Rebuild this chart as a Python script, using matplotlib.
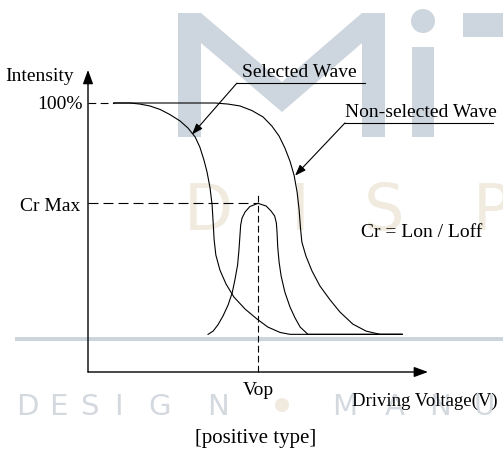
import matplotlib
matplotlib.use("Agg")
import matplotlib.pyplot as plt
from matplotlib.patches import Polygon, Circle, Rectangle

# ---------------- data (schematic electro-optical curves) ----------------
# Driving voltage in arbitrary units (axis origin = 0), intensity in %
sel_v = [0.76, 1.24, 1.53, 1.82, 2.12, 2.41, 2.71, 2.94, 3.15, 3.29, 3.41, 3.50, 3.59,
         3.65, 3.68, 3.71, 3.76, 3.88, 4.06, 4.29, 4.62, 4.97, 5.29, 5.65, 5.94, 9.24]
sel_i = [100, 100, 99.6, 98.9, 97.6, 95.7, 93.3, 90.7, 87.4, 83.6, 78.8, 74.4, 68.4,
         62.1, 55.8, 49.1, 43.5, 37.9, 32.7, 27.9, 23.4, 19.7, 16.7, 14.7, 14.0, 14.0]

non_v = [0.76, 3.74, 4.12, 4.47, 4.82, 5.15, 5.41, 5.62, 5.79, 5.94, 6.06, 6.15, 6.21,
         6.25, 6.29, 6.41, 6.59, 6.82, 7.12, 7.41, 7.79, 8.18, 8.59, 9.24]
non_i = [100, 100, 99.6, 98.9, 97.2, 94.8, 91.4, 87.7, 83.3, 78.4, 73.2, 66.9, 60.2,
         53.5, 48.3, 43.1, 37.5, 32.0, 26.8, 22.3, 17.8, 15.2, 14.0, 14.0]

cr_v = [3.53, 3.68, 3.82, 3.97, 4.12, 4.24, 4.32, 4.40, 4.44, 4.47, 4.49, 4.53, 4.62,
        4.76, 5.00, 5.24, 5.38, 5.49, 5.54, 5.56, 5.58, 5.62, 5.68, 5.79, 5.94, 6.09,
        6.24, 6.47, 9.24]
cr_i = [14.0, 15.2, 17.5, 20.8, 24.9, 29.4, 34.2, 39.8, 45.4, 50.9, 54.6, 57.2, 59.5,
        61.5, 62.7, 61.7, 59.9, 58.0, 55.4, 52.0, 46.5, 40.9, 35.7, 29.7, 24.2, 20.1,
        16.7, 14.0, 14.0]

vop = 5.0
cr_max = 62.7
full_scale = 100
x_axis_end = 10.0
y_axis_end = 112.3

labels = {
    "y": "Intensity", "x": "Driving Voltage(V)", "full": "100%", "crmax": "Cr Max",
    "vop": "Vop", "sel": "Selected Wave", "non": "Non-selected Wave",
    "cr": "Cr = Lon / Loff", "caption": "[positive type]",
}

# ---------------- figure ----------------
W, H = 503, 454
fig = plt.figure(figsize=(W / 100, H / 100), dpi=100)
fig.patch.set_facecolor("white")

# watermark layer (pixel coordinates)
wm = fig.add_axes([0, 0, 1, 1], zorder=0)
wm.set_xlim(0, W)
wm.set_ylim(H, 0)
wm.axis("off")
blue = "#cdd5de"
beige = "#f0eadf"
grey = "#d3d9df"
wm.add_patch(Polygon([(178, 137), (178, 13), (201, 13), (282, 82), (362, 13), (385, 13),
                      (385, 137), (362, 137), (362, 43), (282, 112), (201, 43), (201, 137)],
                     closed=True, fc=blue, ec="none"))
wm.add_patch(Circle((423, 21), 12, fc=blue, ec="none"))
wm.add_patch(Rectangle((412, 47), 22, 90, fc=blue, ec="none"))
wm.add_patch(Rectangle((463, 13), 45, 24, fc=blue, ec="none"))
wm.add_patch(Rectangle((15, 336.5), 495, 4, fc="#ccd5dc", ec="none"))
for ch, cx in zip("DISP", [208, 300, 384, 492]):
    wm.text(cx, 230, ch, color=beige, fontsize=46, family="DejaVu Sans",
            ha="center", va="baseline")
for ch, cx in zip("DESIGN", [27, 58, 89, 118, 160, 218]):
    wm.text(cx, 415, ch, color=grey, fontsize=21, family="DejaVu Sans",
            ha="center", va="baseline")
for ch, cx in zip("MANU", [345, 395, 440, 484]):
    wm.text(cx, 415, ch, color=grey, fontsize=21, family="DejaVu Sans",
            ha="center", va="baseline")
wm.add_patch(Circle((282, 405), 7, fc=beige, ec="none"))

# main diagram layer (data coordinates)
ax = fig.add_axes([0, 0, 1, 1], zorder=1)
ax.patch.set_alpha(0)
ax.axis("off")
ax.set_xlim(-88 / 34, (W - 88) / 34)
ax.set_ylim((372 - H) / 2.69, 372 / 2.69)

lw = 0.8
ax.plot(sel_v, sel_i, color="black", lw=lw)
ax.plot(non_v, non_i, color="black", lw=lw)
ax.plot(cr_v, cr_i, color="black", lw=lw)

# dashed guides
ax.plot([0, sel_v[0]], [full_scale, full_scale], color="black", lw=lw, dashes=(7, 4))
ax.plot([0, vop], [cr_max, cr_max], color="black", lw=lw, dashes=(9, 4.5))
ax.plot([vop, vop], [0, cr_max + 3.8], color="black", lw=lw, dashes=(6, 3))

# axes with arrows
axis_arrow = dict(arrowstyle="-|>,head_length=0.6,head_width=0.22", color="black",
                  lw=1.0, shrinkA=0, shrinkB=0, mutation_scale=14)
ax.annotate("", xy=(0, y_axis_end), xytext=(0, 0), arrowprops=axis_arrow)
ax.annotate("", xy=(x_axis_end, 0), xytext=(0, 0), arrowprops=axis_arrow)

# callouts
lead = dict(arrowstyle="-|>,head_length=0.55,head_width=0.2", color="black", lw=0.8,
            shrinkA=0, shrinkB=0, mutation_scale=12)
ax.plot([4.38, 8.15], [107.4, 107.4], color="black", lw=lw)
ax.annotate("", xy=(3.06, 88.3), xytext=(4.38, 107.4), arrowprops=lead)
ax.plot([7.56, 11.91], [92.6, 92.6], color="black", lw=lw)
ax.annotate("", xy=(6.09, 73.0), xytext=(7.56, 92.6), arrowprops=lead)

font = dict(family="Liberation Serif", color="black")
fs = 14
ax.text(-0.41, 108.2, labels["y"], ha="right", va="baseline", fontsize=fs, **font)
ax.text(-0.15, 97.6, labels["full"], ha="right", va="baseline", fontsize=fs, **font)
ax.text(-0.24, 59.9, labels["crmax"], ha="right", va="baseline", fontsize=fs, **font)
ax.text(6.21, 109.5, labels["sel"], ha="center", va="baseline", fontsize=fs, **font)
ax.text(9.78, 94.8, labels["non"], ha="center", va="baseline", fontsize=fs, **font)
ax.text(9.81, 50.2, labels["cr"], ha="center", va="baseline", fontsize=fs, **font)
ax.text(vop + 0.01, -8.55, labels["vop"], ha="center", va="baseline", fontsize=fs, **font)
ax.text(9.90, -12.6, labels["x"], ha="center", va="baseline", fontsize=13.5, **font)
ax.text(4.94, -26.4, labels["caption"], ha="center", va="baseline", fontsize=15, **font)

fig.savefig("out.png", dpi=100)
